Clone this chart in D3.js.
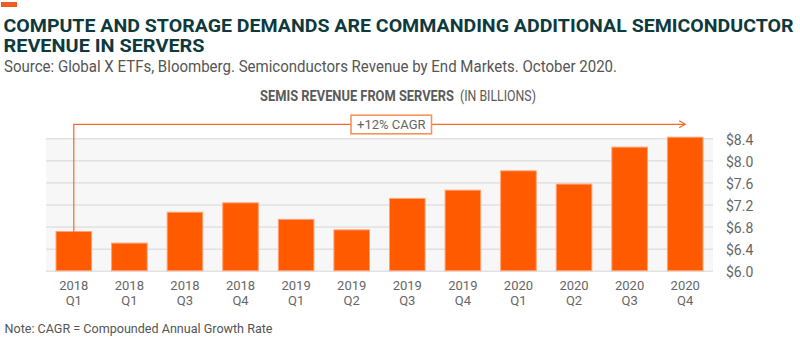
<!DOCTYPE html>
<html>
<head>
<meta charset="utf-8">
<script src="https://cdn.jsdelivr.net/npm/d3@7"></script>
<style>
  body { margin: 0; background: #fff; }
  svg { display: block; font-family: Roboto, "Open Sans", sans-serif; }
</style>
</head>
<body>
<script>
// data
var years = ["2018", "2018", "2018", "2018", "2019", "2019", "2019", "2019", "2020", "2020", "2020", "2020"];
var quarters = ["Q1", "Q1", "Q3", "Q4", "Q1", "Q2", "Q3", "Q4", "Q1", "Q2", "Q3", "Q4"];
var revenue = [6.71, 6.50, 7.06, 7.23, 6.93, 6.74, 7.31, 7.46, 7.81, 7.57, 8.24, 8.42];
var yTicks = [6.0, 6.4, 6.8, 7.2, 7.6, 8.0, 8.4];
var cagrLabel = "+12% CAGR";

var width = 800, height = 339;
var plot = {left: 46, right: 713, top: 138.3, bottom: 270.7};

var svg = d3.select("body").append("svg")
    .attr("width", width)
    .attr("height", height);

// little orange tag on top
svg.append("rect")
    .attr("x", 1).attr("y", 2).attr("width", 16).attr("height", 5)
    .attr("fill", "#f15a22");

// title
var title = ["COMPUTE AND STORAGE DEMANDS ARE COMMANDING ADDITIONAL SEMICONDUCTOR", "REVENUE IN SERVERS"];
var titleLen = [790, 201];
title.forEach(function(t, i) {
  svg.append("text")
    .attr("x", 3.5)
    .attr("y", 31.7 + i * 20.6)
    .attr("textLength", titleLen[i])
    .attr("lengthAdjust", "spacingAndGlyphs")
    .style("font-size", "18px")
    .style("font-weight", "bold")
    .style("fill", "#0e3a3e")
    .text(t);
});

svg.append("text")
    .attr("x", 4)
    .attr("y", 71.7)
    .attr("textLength", 613)
    .attr("lengthAdjust", "spacingAndGlyphs")
    .style("font-size", "16px")
    .style("fill", "#555")
    .text("Source: Global X ETFs, Bloomberg. Semiconductors Revenue by End Markets. October 2020.");

// chart subtitle, bold part + plain part, squeezed horizontally to fit
function squeezed(txt, x0, w, bold) {
  var t = svg.append("text")
      .attr("x", 0)
      .attr("y", 0)
      .style("font-size", "14px")
      .style("font-weight", bold ? "bold" : "normal")
      .style("fill", "#5a5a5a")
      .text(txt);
  var natural = t.node().getComputedTextLength();
  t.attr("transform", "translate(" + x0 + ",100.5) scale(" + (w / natural) + ",1)");
}
squeezed("SEMIS REVENUE FROM SERVERS", 260, 194, true);
squeezed("(IN BILLIONS)", 460, 76, false);

// scales
var x = d3.scaleBand()
    .domain(d3.range(revenue.length))
    .range([plot.left, plot.right])
    .paddingInner(0.36)
    .paddingOuter(0.18);

var y = d3.scaleLinear()
    .domain([6.0, 8.4])
    .range([plot.bottom, plot.top]);

// plot background
svg.append("rect")
    .attr("x", plot.left).attr("y", y(8.4))
    .attr("width", plot.right - plot.left)
    .attr("height", y(6.0) - y(8.4))
    .attr("fill", "#f7f7f7");

// grid + right axis
var yAxis = d3.axisRight(y)
    .tickValues(yTicks)
    .tickSize(plot.right - plot.left)
    .tickFormat(function(d) { return "$" + d3.format(".1f")(d); });

var gy = svg.append("g")
    .attr("transform", "translate(" + plot.left + ",0)")
    .call(yAxis);
gy.select(".domain").remove();
gy.selectAll(".tick line").attr("stroke", "#d6d6d6").attr("stroke-width", 1);
gy.selectAll(".tick text")
    .attr("x", 680)
    .attr("dy", "0.42em")
    .style("font-family", "Roboto, sans-serif")
    .style("font-size", "14px")
    .style("fill", "#666");

// bars
svg.selectAll(".bar")
    .data(revenue)
  .enter().append("rect")
    .attr("class", "bar")
    .attr("x", function(d, i) { return x(i); })
    .attr("width", x.bandwidth())
    .attr("y", function(d) { return y(d); })
    .attr("height", function(d) { return y(6.0) - y(d); })
    .attr("fill", "#ff5a00")
    .attr("stroke", "#ffa277")
    .attr("stroke-width", 1);

// x labels (two lines)
var xl = svg.selectAll(".xlab")
    .data(revenue)
  .enter().append("text")
    .attr("class", "xlab")
    .attr("text-anchor", "middle")
    .style("font-size", "13px")
    .style("fill", "#666");
xl.append("tspan")
    .attr("x", function(d, i) { return x(i) + x.bandwidth() / 2; })
    .attr("y", 289.5)
    .text(function(d, i) { return years[i]; });
xl.append("tspan")
    .attr("x", function(d, i) { return x(i) + x.bandwidth() / 2; })
    .attr("y", 304.5)
    .text(function(d, i) { return quarters[i]; });

// CAGR annotation
var last = revenue.length - 1;
var x0 = x(0) + x.bandwidth() / 2;
var x1 = x(last) + x.bandwidth() / 2;
var ay = 124.3;

svg.append("path")
    .attr("d", "M" + x0 + "," + y(revenue[0]) + "V" + ay + "H" + x1)
    .attr("fill", "none")
    .attr("stroke", "#f26b2a")
    .attr("stroke-width", 1.2);
svg.append("path")
    .attr("d", "M" + (x1 - 6) + "," + (ay - 3.5) + "L" + x1 + "," + ay + "L" + (x1 - 6) + "," + (ay + 3.5))
    .attr("fill", "none")
    .attr("stroke", "#f26b2a")
    .attr("stroke-width", 1.2);

svg.append("rect")
    .attr("x", 351).attr("y", 115.2)
    .attr("width", 80.5).attr("height", 18.6)
    .attr("fill", "#fff")
    .attr("stroke", "#f7935a")
    .attr("stroke-width", 1.6);
svg.append("text")
    .attr("x", 391.3)
    .attr("y", 129)
    .attr("text-anchor", "middle")
    .style("font-size", "13px")
    .style("fill", "#666")
    .text(cagrLabel);

// note
svg.append("text")
    .attr("x", 4.5)
    .attr("y", 333)
    .attr("textLength", 268)
    .attr("lengthAdjust", "spacingAndGlyphs")
    .style("font-size", "13px")
    .style("fill", "#555")
    .text("Note: CAGR = Compounded Annual Growth Rate");
</script>
</body>
</html>
